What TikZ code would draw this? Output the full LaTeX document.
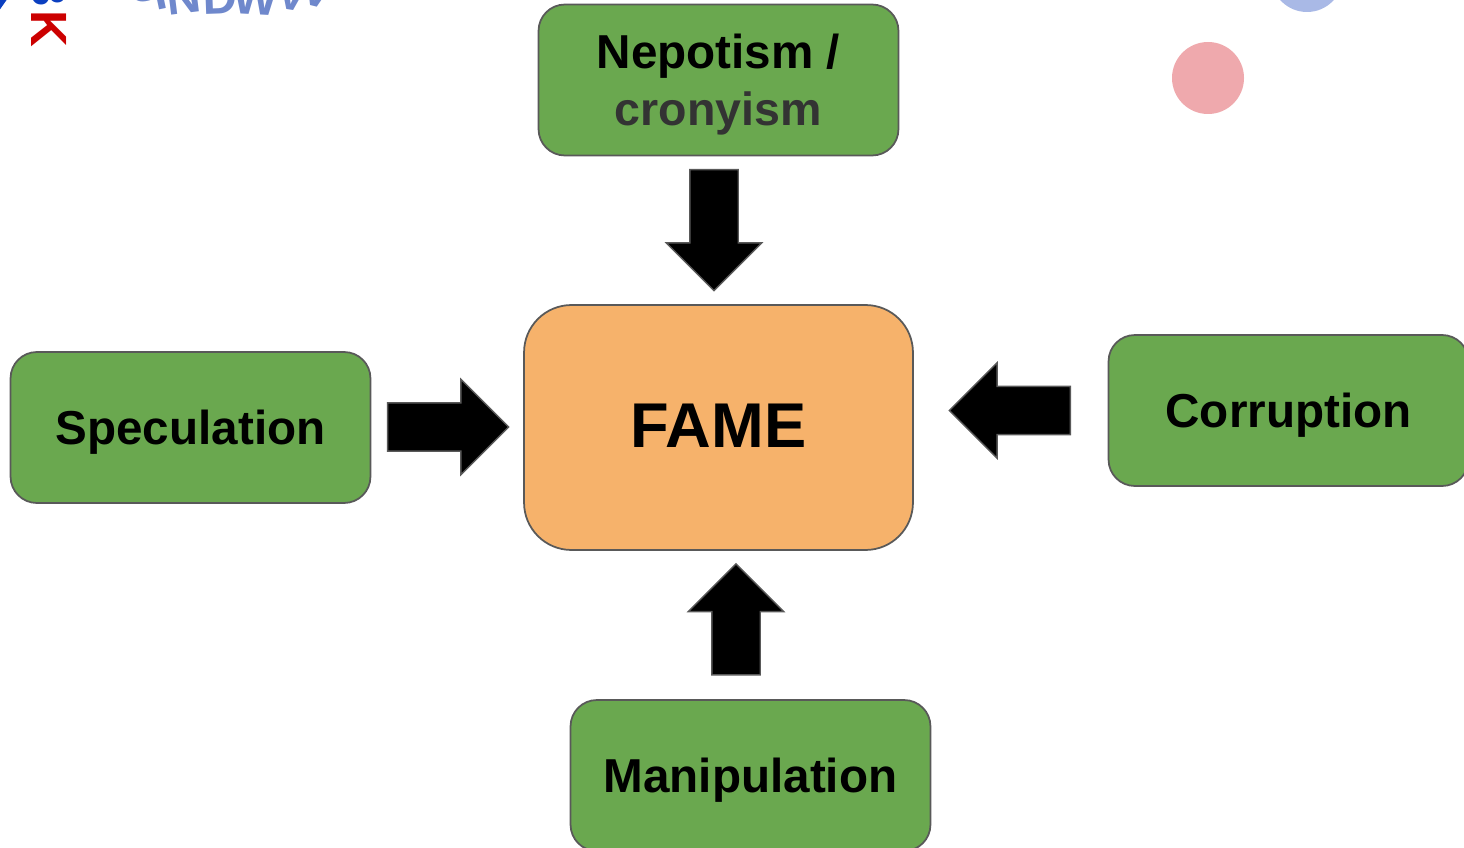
\documentclass[tikz,border=0pt]{standalone}
\usepackage{fontspec}
\setmainfont{Liberation Sans}
\usetikzlibrary{shapes.arrows}
\definecolor{boxgreen}{HTML}{6AA84F}
\definecolor{boxorange}{HTML}{F6B26B}
\definecolor{boxline}{HTML}{595959}
\definecolor{logored}{HTML}{CC0000}
\definecolor{logoblue}{HTML}{0B3FC0}
\definecolor{arcblue}{HTML}{6F88CC}
\definecolor{dotpink}{HTML}{EFA9AD}
\definecolor{dotblue}{HTML}{A9B9E6}
\tikzset{
    causebox/.style={draw=boxline, fill=boxgreen, line width=1pt, rounded corners=15pt,
        minimum width=7.2cm, minimum height=3.02cm, inner sep=0pt, align=center, text depth=0pt,
        font=\fontsize{27.1}{32.5}\selectfont\bfseries},
    famebox/.style={draw=boxline, fill=boxorange, line width=1pt, rounded corners=27pt,
        minimum width=7.78cm, minimum height=4.9cm, inner sep=0pt, text depth=2.3pt,
        font=\fontsize{36}{40}\selectfont\bfseries},
    blockarrow/.style={draw=boxline, fill=black, line width=0.8pt, single arrow, inner sep=0pt,
        single arrow tip angle=90, single arrow head extend=0.47cm,
        text height=0.94cm, text depth=0pt, text width=0pt,
        minimum height=2.42cm},
    arcletter/.style={text=arcblue, font=\fontsize{27}{32}\selectfont\bfseries, inner sep=0pt},
    logoletter/.style={rotate=-90, font=\fontsize{29}{36}\selectfont\bfseries, inner sep=0pt}
}
\begin{document}
\begin{tikzpicture}[x=0.02cm, y=-0.02cm]
    \useasboundingbox (0,0) rectangle (1464,848);
    \clip (0,0) rectangle (1464,848);

    % scraps of the slide behind
    \fill[logoblue] (-4,15) -- (8,-2) -- (-4,-2) -- cycle;
    \node[logoletter, text=logoblue] (logoB) at (49,-11) {B};
    \node[logoletter, text=logored] (logoK) at (49,29) {K};
    \node[arcletter, rotate=14] (arcS) at (145,-15) {S};
    \node[arcletter, rotate=12] (arcI) at (160,-7) {I};
    \node[arcletter, rotate=7] (arcN) at (184,-3) {N};
    \node[arcletter, rotate=2] (arcD) at (220,-2) {D};
    \node[arcletter, rotate=-3] (arcW) at (256,-2) {W};
    \node[arcletter, rotate=-9] (arcV) at (293,-6) {V};
    \node[arcletter, rotate=-14] (arcU) at (318,-10) {V};
    \fill[dotpink] (1208,78) circle (36);
    \fill[dotblue] (1307,-24) circle (36);

    % main boxes
    \node[famebox] (fame) at (718.5,427.5) {FAME};
    \node[causebox] (nepotism) at (718.5,80) {Nepotism /\\{\fontsize{26.5}{32.5}\selectfont\color[HTML]{333333}cronyism}};
    \node[causebox] (speculation) at (190.5,427.5) {Speculation};
    \node[causebox] (corruption) at (1288.5,410.5) {Corruption};
    \node[causebox] (manipulation) at (750.5,775.5) {Manipulation};

    % arrows
    \node[blockarrow, rotate=-90] (arrowN) at (714,218) {};
    \node[blockarrow] (arrowW) at (436,427) {};
    \node[blockarrow, rotate=180] (arrowE) at (1022,410.5) {};
    \node[blockarrow, rotate=90, minimum height=2.22cm] (arrowS) at (736,631.5) {};
\end{tikzpicture}
\end{document}
